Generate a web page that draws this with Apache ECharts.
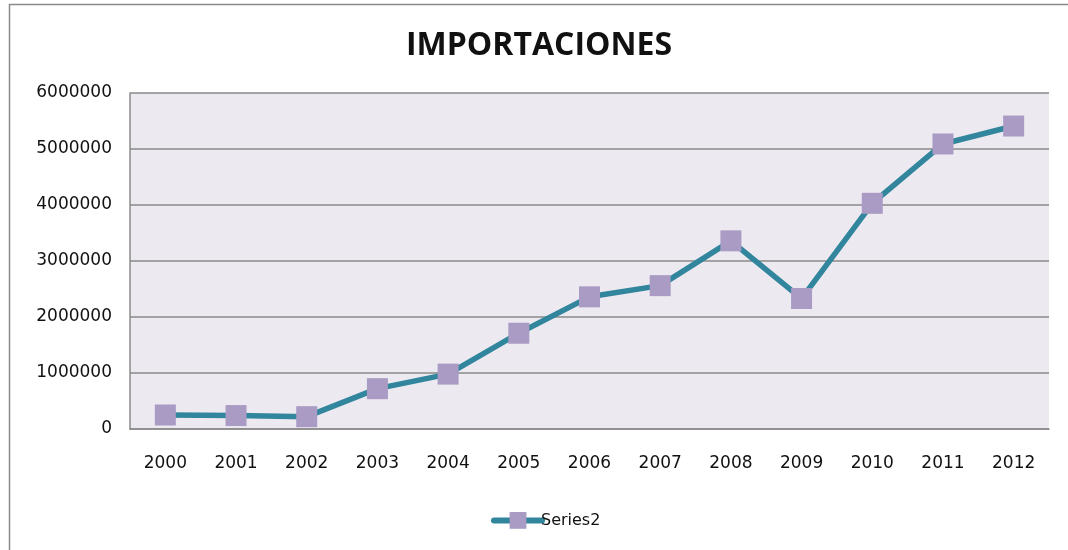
<!DOCTYPE html>
<html><head><meta charset="utf-8">
<script src="https://cdn.jsdelivr.net/npm/echarts@6/dist/echarts.min.js"></script>
<style>html,body{margin:0;padding:0;background:#fff}#c{width:1068px;height:550px}</style>
</head><body><div id="c"></div>
<script>
const titleText = 'IMPORTACIONES';
const years = ['2000','2001','2002','2003','2004','2005','2006','2007','2008','2009','2010','2011','2012'];
const seriesName = 'Series2';
const values = [250000, 240000, 220000, 720000, 980000, 1710000, 2360000, 2560000, 3360000, 2330000, 4030000, 5090000, 5410000];
const yTicks = {min: 0, max: 6000000, interval: 1000000};

const chart = echarts.init(document.getElementById('c'), null, {renderer: 'canvas'});
const lblFont = '"DejaVu Sans", sans-serif';
chart.setOption({
  animation: false,
  backgroundColor: '#fff',
  graphic: [{type: 'rect', shape: {x: 9.5, y: 4.5, width: 1100, height: 600}, style: {fill: 'none', stroke: '#8a8a8a', lineWidth: 1.5}, z: -10}],
  title: {text: titleText, left: 401, top: 25, textStyle: {fontFamily: '"Open Sans", sans-serif', fontWeight: 'bold', fontSize: 32, color: '#111'}},
  legend: {top: 507, left: 486, itemWidth: 48, itemHeight: 21, itemGap: 0,
    lineStyle: {width: 6, cap: 'round'},
    textStyle: {fontFamily: lblFont, fontSize: 16, color: '#111', padding: [0,0,0,-6]},
    data: [{name: seriesName}]},
  grid: {left: 130, right: 19, top: 93, bottom: 121, show: true, backgroundColor: '#ECEAF0', borderWidth: 0},
  xAxis: {type: 'category', data: years, boundaryGap: true,
    axisLine: {show: true, lineStyle: {color: '#8a8a8a', width: 1.5}},
    axisTick: {show: false},
    axisLabel: {fontFamily: lblFont, fontSize: 17, color: '#111', margin: 26}},
  yAxis: {type: 'value', min: yTicks.min, max: yTicks.max, interval: yTicks.interval,
    axisLine: {show: true, lineStyle: {color: '#8a8a8a', width: 1.5}},
    axisTick: {show: false},
    axisLabel: {fontFamily: lblFont, fontSize: 17, color: '#111', margin: 18, formatter: v => String(v)},
    splitLine: {show: true, lineStyle: {color: '#8a8a8a', width: 1.5}}},
  series: [{name: seriesName, type: 'line', data: values,
    lineStyle: {color: '#31859C', width: 5.5},
    itemStyle: {color: '#A99BC4'},
    symbol: 'rect', symbolSize: 21, showSymbol: true}]
});
</script></body></html>
